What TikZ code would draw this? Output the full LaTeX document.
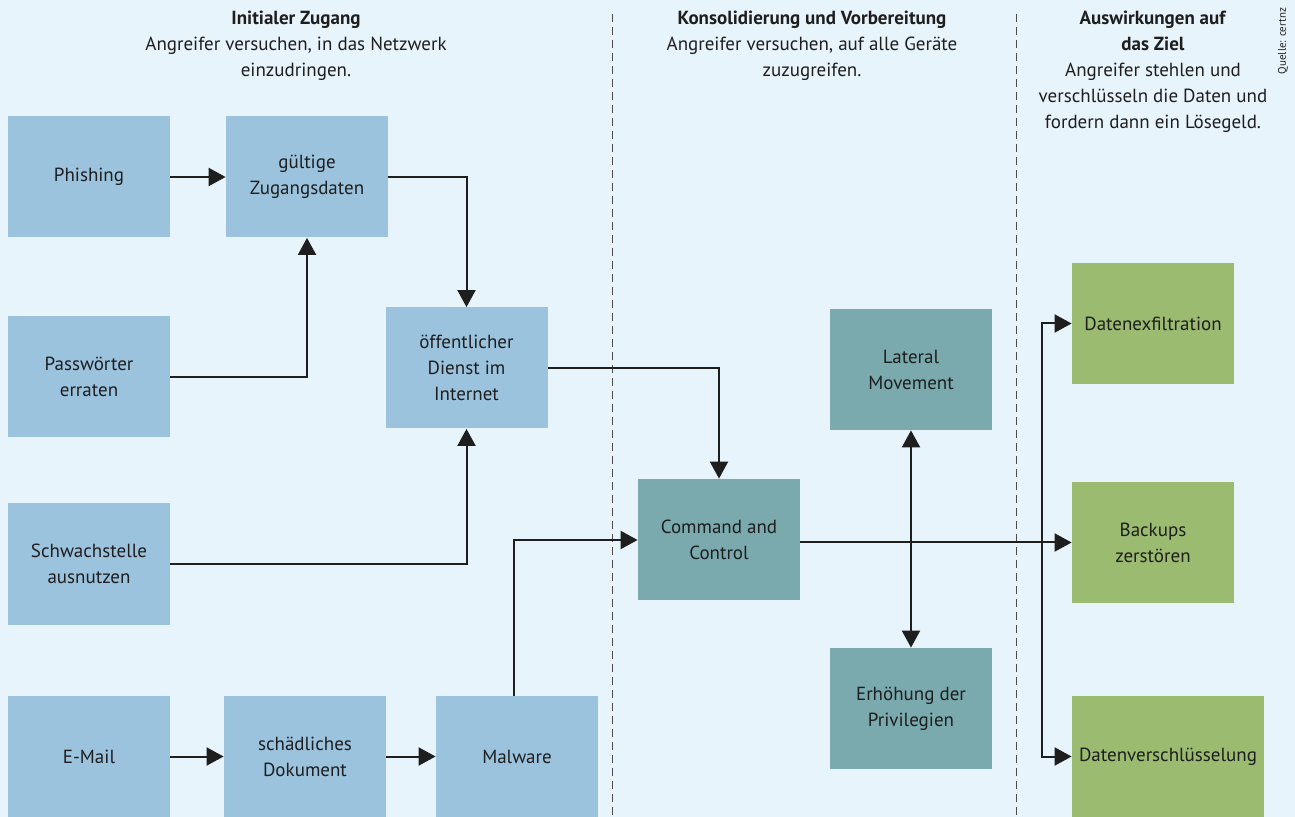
\documentclass[tikz,border=0pt]{standalone}
\usepackage{fontspec}
\setmainfont{PT Sans}
\usetikzlibrary{arrows.meta}
\definecolor{bgc}{HTML}{E8F4FC}
\definecolor{blu}{HTML}{9CC3DE}
\definecolor{tea}{HTML}{7AAAAE}
\definecolor{grn}{HTML}{9BBB71}
\definecolor{ink}{HTML}{1E1E1E}
\tikzset{
  box/.style={minimum width=81pt, minimum height=60.5pt, inner sep=0pt, align=center, text=ink, font=\fontsize{9.5}{13}\selectfont},
  bbox/.style={box, fill=blu},
  tbox/.style={box, fill=tea},
  gbox/.style={box, fill=grn},
  conn/.style={draw=ink, line width=1pt, -{Triangle[length=8.5pt,width=9pt]}},
  dconn/.style={draw=ink, line width=1pt, {Triangle[length=8.5pt,width=9pt]}-{Triangle[length=8.5pt,width=9pt]}},
  sep/.style={draw=ink!80, line width=0.5pt, dash pattern=on 4pt off 2.5pt},
  head/.style={align=center, text=ink, font=\fontsize{9.5}{13}\selectfont, inner sep=0pt, anchor=north}
}
\begin{document}
\begin{tikzpicture}[x=0.5pt,y=-0.5pt]
\fill[bgc] (0,0) rectangle (1295,817);
\useasboundingbox (0,0) rectangle (1295,817);
% separators
\coordinate (s1t) at (612,14); \coordinate (s1b) at (612,817);
\coordinate (s2t) at (1016,14); \coordinate (s2b) at (1016,817);
\draw[sep] (s1t) -- (s1b);
\draw[sep] (s2t) -- (s2b);
% headers
\node[head] (h1) at (296,11) {\textbf{Initialer Zugang}\\Angreifer versuchen, in das Netzwerk\\einzudringen.};
\node[head] (h2) at (812,11) {\textbf{Konsolidierung und Vorbereitung}\\Angreifer versuchen, auf alle Geräte\\zuzugreifen.};
\node[head] (h3) at (1153,11) {\textbf{Auswirkungen auf}\\\textbf{das Ziel}\\Angreifer stehlen und\\verschlüsseln die Daten und\\fordern dann ein Lösegeld.};
\node[rotate=90, text=ink, font=\fontsize{5.5}{6}\selectfont, inner sep=0pt] (src) at (1283,41) {Quelle: certnz};
% boxes
\node[bbox] (phish) at (89,177) {Phishing};
\node[bbox] (zug) at (307,177) {gültige\\Zugangsdaten};
\node[bbox] (pw) at (89,377) {Passwörter\\erraten};
\node[bbox] (dienst) at (466.5,368) {öffentlicher\\Dienst im\\Internet};
\node[bbox] (schw) at (89,564) {Schwachstelle\\ausnutzen};
\node[bbox] (mail) at (89,756.5) {E-Mail};
\node[bbox] (dok) at (305,756.5) {schädliches\\Dokument};
\node[bbox] (mal) at (517,756.5) {Malware};
\node[tbox] (cc) at (719,539.5) {Command and\\Control};
\node[tbox] (lat) at (911,369.5) {Lateral\\Movement};
\node[tbox] (erh) at (911,708.5) {Erhöhung der\\Privilegien};
\node[gbox] (exf) at (1153,323.5) {Datenexfiltration};
\node[gbox] (bak) at (1153,542.5) {Backups\\zerstören};
\node[gbox, minimum width=96pt] (enc) at (1168,756.5) {Datenverschlüsselung};
% connectors
\draw[conn] (phish) -- (zug);
\draw[conn] (pw.east) -| (zug.south);
\draw[conn] (zug.east) -| (dienst.north);
\draw[conn] (schw.east) -| (dienst.south);
\draw[conn] (dienst.east) -| (cc.north);
\draw[conn] (mail) -- (dok);
\draw[conn] (dok) -- (mal);
\coordinate (malup) at (514,540);
\draw[conn] (mal.north -| malup) -- (malup) -- (cc.west |- malup);
\draw[conn] (cc.east |- bak.west) -- (bak.west);
\draw[dconn] (lat.south) -- (erh.north);
\coordinate (j) at (1042,542.5);
\draw[conn] (j) |- (exf.west);
\draw[conn] (j) |- (enc.west);
\end{tikzpicture}
\end{document}
